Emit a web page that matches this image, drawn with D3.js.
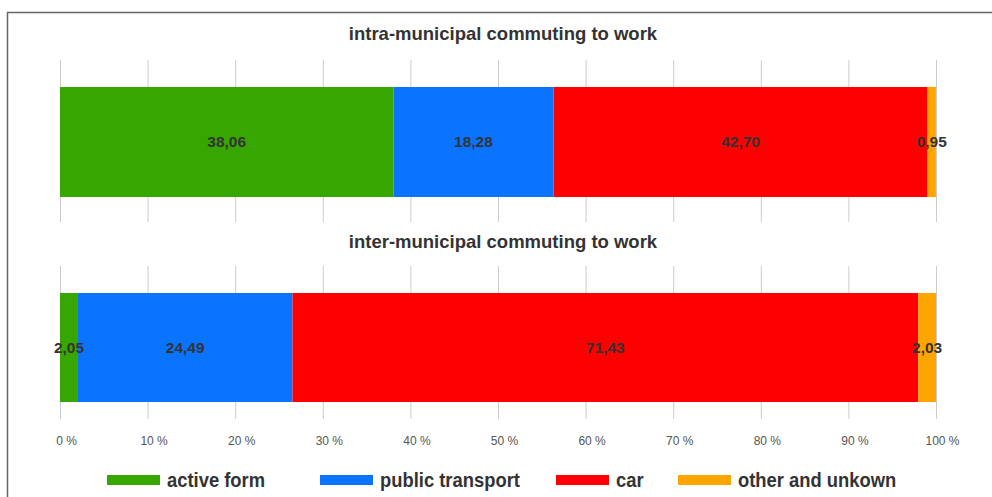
<!DOCTYPE html>
<html>
<head>
  <meta charset="utf-8">
  <title>Commuting to work</title>
  <script src="https://cdn.jsdelivr.net/npm/d3@7"></script>
  <style>
    body { margin: 0; background: #fff; }
    svg { display: block; font-family: "Liberation Sans", Arial, sans-serif; }
    .title { font-size: 18.5px; font-weight: bold; fill: #333; }
    .val { font-size: 15.5px; font-weight: bold; fill: #333; }
    .tick text { font-size: 12px; fill: #555; }
    .legend text { font-size: 20px; font-weight: bold; fill: #333; }
  </style>
</head>
<body>
<script>
  // data
  var categories = ["active form", "public transport", "car", "other and unkown"];
  var colors = ["#38a600", "#0a74ff", "#ff0000", "#ffa500"];
  var panels = ["intra-municipal commuting to work", "inter-municipal commuting to work"];
  var intraValues = [38.06, 18.28, 42.70, 0.95];
  var interValues = [2.05, 24.49, 71.43, 2.03];
  var tickValues = [0, 10, 20, 30, 40, 50, 60, 70, 80, 90, 100];

  var W = 992, H = 497;

  var svg = d3.select("body").append("svg")
      .attr("width", W)
      .attr("height", H);

  // frame
  svg.append("path")
      .attr("d", "M7.5," + H + "V12.5H" + W)
      .attr("fill", "none")
      .attr("stroke", "#666")
      .attr("stroke-width", 1.5);

  var x = d3.scaleLinear().domain([0, 100]).range([60, 936]);

  var layout = [
    {title: panels[0], titleY: 40, gridTop: 60, gridBottom: 222, barTop: 87, barH: 110, values: intraValues},
    {title: panels[1], titleY: 248, gridTop: 266, gridBottom: 419, barTop: 293, barH: 109, values: interValues}
  ];

  layout.forEach(function(p) {
    var g = svg.append("g");

    g.append("text")
        .attr("class", "title")
        .attr("x", 503)
        .attr("y", p.titleY)
        .attr("text-anchor", "middle")
        .text(p.title);

    g.selectAll("line.grid")
        .data(tickValues)
        .enter().append("line")
        .attr("class", "grid")
        .attr("x1", function(d) { return x(d) + 0.5; })
        .attr("x2", function(d) { return x(d) + 0.5; })
        .attr("y1", p.gridTop)
        .attr("y2", p.gridBottom)
        .attr("stroke", "#ccc");

    var stack = [];
    var acc = 0;
    p.values.forEach(function(v, i) {
      stack.push({v: v, x0: acc, x1: acc + v, i: i});
      acc += v;
    });

    g.selectAll("rect.seg")
        .data(stack)
        .enter().append("rect")
        .attr("class", "seg")
        .attr("x", function(d) { return x(d.x0); })
        .attr("width", function(d) { return x(d.x1) - x(d.x0); })
        .attr("y", p.barTop)
        .attr("height", p.barH)
        .attr("fill", function(d) { return colors[d.i]; });

    g.selectAll("text.val")
        .data(stack)
        .enter().append("text")
        .attr("class", "val")
        .attr("x", function(d) { return (x(d.x0) + x(d.x1)) / 2; })
        .attr("y", p.barTop + p.barH / 2 + 5)
        .attr("text-anchor", "middle")
        .text(function(d) { return d.v.toFixed(2).replace(".", ","); });
  });

  // x axis labels (sit a little right of their gridline, as in the source)
  var axis = d3.axisBottom(x)
      .tickValues(tickValues)
      .tickSize(0)
      .tickPadding(0)
      .tickFormat(function(d) { return d + " %"; });

  svg.append("g")
      .attr("transform", "translate(6,436)")
      .call(axis)
      .call(function(g) { g.select(".domain").remove(); });

  // legend
  var legendX = [107, 320, 556, 678];
  var legend = svg.append("g").attr("class", "legend");
  categories.forEach(function(c, i) {
    legend.append("rect")
        .attr("x", legendX[i])
        .attr("y", 475)
        .attr("width", 53)
        .attr("height", 10)
        .attr("fill", colors[i]);
    legend.append("text")
        .attr("transform", "translate(" + (legendX[i] + 60) + ",487) scale(0.92,1)")
        .text(c);
  });
</script>
</body>
</html>
